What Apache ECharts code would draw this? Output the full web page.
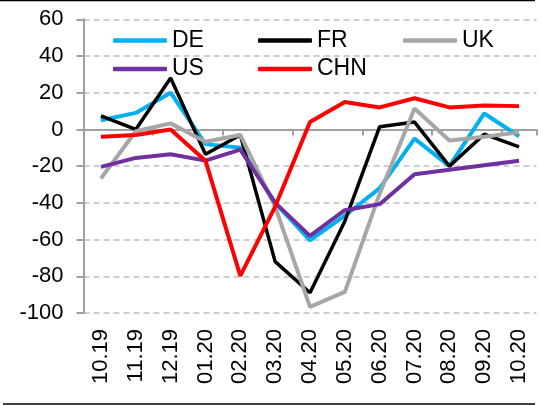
<!DOCTYPE html>
<html>
<head>
<meta charset="utf-8">
<script src="https://cdn.jsdelivr.net/npm/echarts@6/dist/echarts.min.js"></script>
<style>
    html, body { margin: 0; padding: 0; background: #fff; }
    #chart { width: 543px; height: 405px; }
</style>
</head>
<body>
<div id="chart"></div>
<script>
// monthly readings, 10.19 .. 10.20
var months = ['10.19', '11.19', '12.19', '01.20', '02.20', '03.20', '04.20', '05.20', '06.20', '07.20', '08.20', '09.20', '10.20'];
var deValues = [5, 9, 20, -8, -10, -40, -60.5, -47, -32, -5, -20, 8.7, -3.7];
var frValues = [7.4, 0, 28, -13.5, -3, -72, -89, -50, 1.5, 4, -20, -2.6, -9.5];
var ukValues = [-26.7, -1, 3.3, -6.7, -3, -42, -96.7, -88.5, -35, 11.4, -6, -4, -1.6];
var usValues = [-20.4, -15.5, -13.5, -17, -11, -40, -58, -44, -40.7, -24.4, -22, -19.5, -17];
var chnValues = [-4, -3, 0, -17, -79.8, -42, 4, 15, 12, 17, 12, 13, 12.7];
var yTicks = { min: -100, max: 60, step: 20 };

var chart = echarts.init(document.getElementById('chart'));
var font = 'Liberation Sans, Arial, sans-serif';

function makeLine(name, data, color, width) {
    return {
        name: name,
        type: 'line',
        xAxisIndex: 0,
        data: data,
        symbol: 'none',
        lineStyle: { color: color, width: width },
        itemStyle: { color: color }
    };
}

function makeLegend(names, left) {
    return {
        data: names,
        orient: 'vertical',
        left: left,
        top: 24,
        icon: 'roundRect',
        itemWidth: 54,
        itemHeight: 4.5,
        itemGap: 5.5,
        textStyle: { fontFamily: font, fontSize: 23, color: '#000', lineHeight: 23 }
    };
}

var option = {
    animation: false,
    backgroundColor: '#fff',
    grid: { left: 83.5, right: 6.5, top: 19.3, bottom: 92 },
    legend: [
        makeLegend(['DE', 'US'], 108),
        makeLegend(['FR', 'CHN'], 253),
        makeLegend(['UK'], 398)
    ],
    xAxis: [
        {
            type: 'category',
            data: months,
            position: 'bottom',
            axisLine: { show: false, onZero: false },
            axisTick: { show: false },
            axisLabel: { rotate: 90, margin: 16, fontFamily: font, fontSize: 22, color: '#000' }
        },
        {
            type: 'category',
            data: months,
            position: 'top',
            axisLine: { onZero: true, lineStyle: { color: '#a0a0a0', width: 2 } },
            axisTick: { show: true, inside: true, length: 6, lineStyle: { color: '#a0a0a0', width: 2 } },
            axisLabel: { show: false }
        }
    ],
    yAxis: {
        type: 'value',
        min: yTicks.min,
        max: yTicks.max,
        interval: yTicks.step,
        axisLine: { show: true, lineStyle: { color: '#a0a0a0', width: 2 } },
        axisTick: { show: true, length: 7, lineStyle: { color: '#a0a0a0', width: 2 } },
        axisLabel: { margin: 20, fontFamily: font, fontSize: 22, color: '#000' },
        splitLine: { show: true, lineStyle: { color: '#bfbfbf', width: 1.5, type: [6, 4] } }
    },
    series: [
        makeLine('DE', deValues, '#00b0f0', 4),
        makeLine('FR', frValues, '#000000', 3.5),
        makeLine('UK', ukValues, '#a6a6a6', 4),
        makeLine('US', usValues, '#7030a0', 4),
        makeLine('CHN', chnValues, '#ff0000', 4)
    ],
    graphic: [
        { type: 'line', shape: { x1: 0, y1: 0.5, x2: 535, y2: 0.5 }, style: { stroke: '#000', lineWidth: 1.5 } },
        { type: 'line', shape: { x1: 3, y1: 404, x2: 535, y2: 404 }, style: { stroke: '#000', lineWidth: 1.5 } }
    ]
};

chart.setOption(option);
</script>
</body>
</html>
